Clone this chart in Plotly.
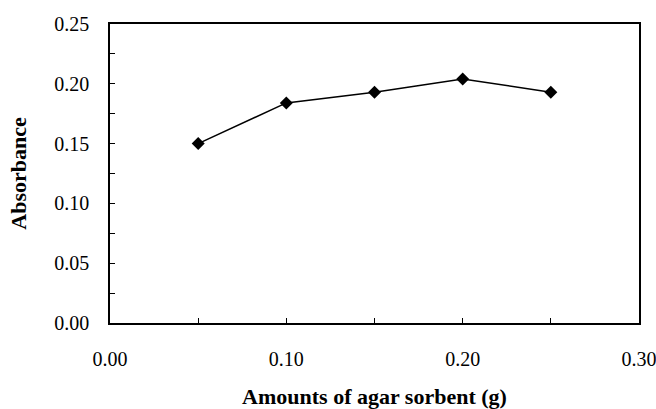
import plotly.graph_objects as go

amounts = [0.05, 0.10, 0.15, 0.20, 0.25]
absorbance = [0.150, 0.184, 0.193, 0.204, 0.193]

x_tickvals = [0.00, 0.05, 0.10, 0.15, 0.20, 0.25, 0.30]
x_ticktext = ["0.00", "", "0.10", "", "0.20", "", "0.30"]
y_tickvals = [0.000, 0.025, 0.050, 0.075, 0.100, 0.125, 0.150, 0.175, 0.200, 0.225, 0.250]
y_ticktext = ["0.00", "", "0.05", "", "0.10", "", "0.15", "", "0.20", "", "0.25"]

x_title = "Amounts of agar sorbent (g)"
y_title = "Absorbance"

fig = go.Figure()
fig.add_trace(go.Scatter(
    x=amounts, y=absorbance, mode="lines+markers",
    line=dict(color="black", width=1.5),
    marker=dict(symbol="diamond", size=10, color="black"),
    showlegend=False,
))

font_family = "Liberation Serif"
fig.update_layout(
    width=656, height=409,
    margin=dict(l=110, r=17, t=24, b=86, autoexpand=False),
    paper_bgcolor="white", plot_bgcolor="white",
    font=dict(family=font_family, color="black", size=20),
)
fig.update_xaxes(
    range=[0, 0.30], tickmode="array", tickvals=x_tickvals, ticktext=x_ticktext,
    ticks="inside", ticklen=5, tickwidth=1.2, tickcolor="black",
    ticklabeloverflow="allow", automargin=False,
    showline=True, linecolor="black", linewidth=1.5, mirror=True,
    showgrid=False, zeroline=False,
    ticklabelstandoff=17,
    tickfont=dict(size=20, family=font_family),
    title=dict(text="<b>" + x_title + "</b>", font=dict(size=22, family=font_family), standoff=22),
)
fig.update_yaxes(
    range=[0, 0.25], tickmode="array", tickvals=y_tickvals, ticktext=y_ticktext,
    ticks="inside", ticklen=5, tickwidth=1.2, tickcolor="black",
    ticklabeloverflow="allow", automargin=False,
    showline=True, linecolor="black", linewidth=1.5, mirror=True,
    showgrid=False, zeroline=False,
    ticklabelstandoff=15,
    tickfont=dict(size=20, family=font_family),
    title=dict(text="<b>" + y_title + "</b>", font=dict(size=22, family=font_family), standoff=22),
)

fig.write_html("out.html")
